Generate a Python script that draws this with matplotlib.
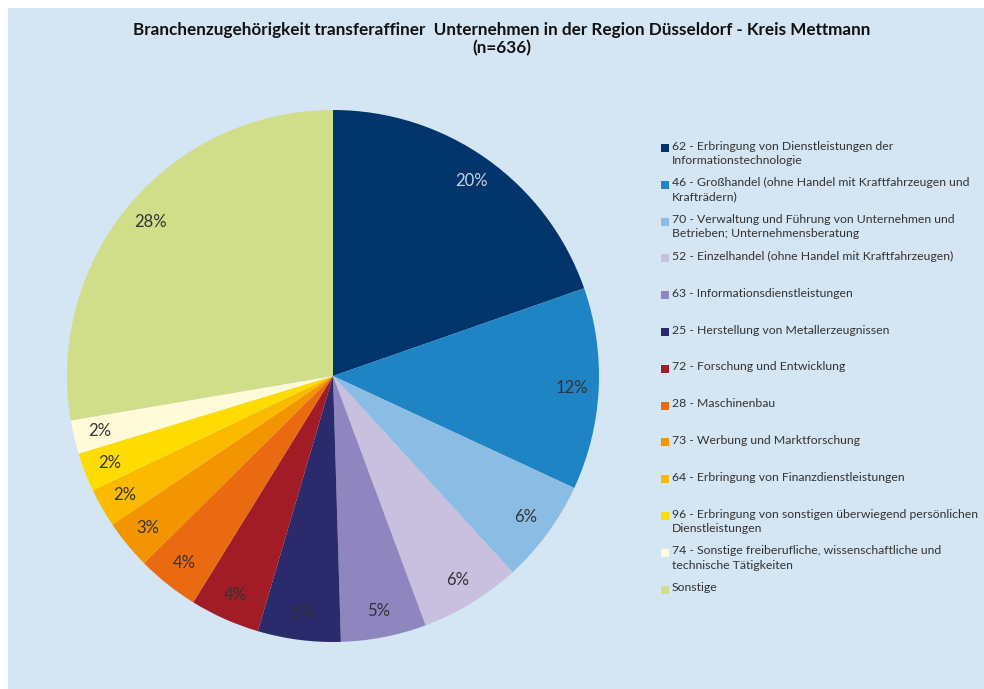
import matplotlib
matplotlib.use("Agg")
import matplotlib.pyplot as plt
from matplotlib.patches import Rectangle

plt.rcParams['font.family'] = ['Lato', 'DejaVu Sans']

title = "Branchenzugehörigkeit transferaffiner  Unternehmen in der Region Düsseldorf - Kreis Mettmann\n(n=636)"

categories = [
    "62 - Erbringung von Dienstleistungen der\nInformationstechnologie",
    "46 - Großhandel (ohne Handel mit Kraftfahrzeugen und\nKrafträdern)",
    "70 - Verwaltung und Führung von Unternehmen und\nBetrieben; Unternehmensberatung",
    "52 - Einzelhandel (ohne Handel mit Kraftfahrzeugen)",
    "63 - Informationsdienstleistungen",
    "25 - Herstellung von Metallerzeugnissen",
    "72 - Forschung und Entwicklung",
    "28 - Maschinenbau",
    "73 - Werbung und Marktforschung",
    "64 - Erbringung von Finanzdienstleistungen",
    "96 - Erbringung von sonstigen überwiegend persönlichen\nDienstleistungen",
    "74 - Sonstige freiberufliche, wissenschaftliche und\ntechnische Tätigkeiten",
    "Sonstige",
]
counts = [125, 78, 40, 39, 33, 32, 27, 24, 19, 15, 15, 13, 176]
colors = ["#00356b", "#1f84c4", "#8bbde4", "#c8c0de", "#8f86bf", "#2b2a6c",
          "#a11c26", "#e96a10", "#f29500", "#fbba00", "#fedc00", "#fffad8", "#d0dd89"]
label_colors = ["#c9d3df"] + ["#333333"] * 12

W, H = 984, 689
fig = plt.figure(figsize=(W / 100, H / 100), dpi=100)
fig.patch.set_facecolor("white")
fig.patches.append(Rectangle((8 / W, 0), 1 - 8 / W, 1 - 8 / H, transform=fig.transFigure,
                             facecolor="#d4e5f3", edgecolor="none", zorder=-10))

cx, cy, r = 333, 376, 266
ax = fig.add_axes([(cx - r) / W, (H - cy - r) / H, 2 * r / W, 2 * r / H])
ax.set_zorder(5)
ax.set_facecolor("none")
wedges, texts, autotexts = ax.pie(
    counts, colors=colors, startangle=90, counterclock=False,
    autopct=lambda p: f"{p:.0f}%", pctdistance=0.9,
    wedgeprops=dict(linewidth=0), textprops=dict(fontsize=12))
for t, c in zip(autotexts, label_colors):
    t.set_color(c)
ax.set_xlim(-1, 1)
ax.set_ylim(-1, 1)
ax.set_aspect("equal")
ax.axis("off")

fig.text(502 / W, 1 - 39 / H, title, ha="center", va="center", fontsize=12.3,
         fontweight="bold", color="#111111", linespacing=1.15)

# legend
y0 = 148
dy = 36.8
sq = 8
for i, (lab, col) in enumerate(zip(categories, colors)):
    yc = y0 + i * dy
    fig.patches.append(Rectangle((661 / W, 1 - (yc + sq / 2) / H), sq / W, sq / H,
                                 transform=fig.transFigure, facecolor=col,
                                 edgecolor="none", zorder=2))
    fig.text(672 / W, 1 - (yc - 7.5) / H, lab, ha="left", va="top", fontsize=8.85,
             color="#333333", linespacing=1.37)

fig.savefig("out.png", dpi=100, facecolor=fig.get_facecolor())
